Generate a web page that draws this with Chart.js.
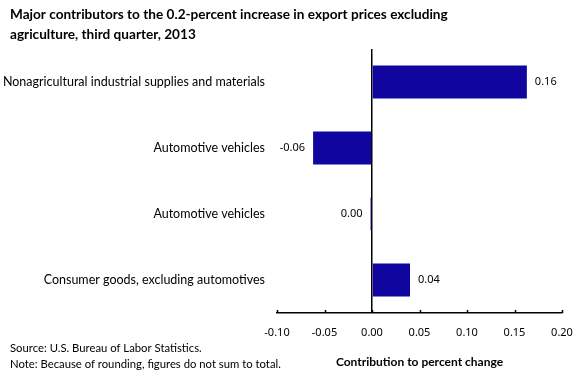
<!DOCTYPE html>
<html>
<head>
<meta charset="utf-8">
<script src="https://cdn.jsdelivr.net/npm/chart.js@4.4.1/dist/chart.umd.min.js"></script>
<style>
  html, body { margin: 0; padding: 0; background: #fff; }
  #wrap { width: 580px; height: 380px; position: relative; }
</style>
</head>
<body>
<div id="wrap"><canvas id="chart"></canvas></div>
<script>
const titleLines = [
  'Major contributors to the 0.2-percent increase in export prices excluding',
  'agriculture, third quarter, 2013'
];
const footLines = [
  'Source: U.S. Bureau of Labor Statistics.',
  'Note: Because of rounding, figures do not sum to total.'
];
const categories = [
  'Nonagricultural industrial supplies and materials',
  'Automotive vehicles',
  'Automotive vehicles',
  'Consumer goods, excluding automotives'
];
const contributions = [0.163, -0.062, -0.0015, 0.04];
const xTicks = [-0.10, -0.05, 0.00, 0.05, 0.10, 0.15, 0.20];

const BAR_COLOR = '#10069f';
const TEXT_FONT = 'Lato, "Open Sans", sans-serif';
const NUM_FONT = '"Noto Sans", "Liberation Sans", sans-serif';

function fmt(v) {
  const r = Math.round(v * 100) / 100;
  return (r === 0 ? 0 : r).toFixed(2);
}

// title, source notes, value labels and inward tick marks
const extras = {
  id: 'extras',
  afterDraw(chart) {
    const c = chart.ctx;
    c.save();
    c.fillStyle = '#000';
    c.textBaseline = 'alphabetic';
    c.textAlign = 'left';
    c.font = 'bold 13.6px ' + TEXT_FONT;
    c.fillText(titleLines[0], 10, 19);
    c.fillText(titleLines[1], 10, 39);

    c.font = '11.3px ' + TEXT_FONT;
    c.fillText(footLines[0], 10, 352);
    c.fillText(footLines[1], 10, 368);

    const xs = chart.scales.x;
    c.strokeStyle = '#000';
    c.lineWidth = 1.5;
    c.beginPath();
    xs.ticks.forEach(t => {
      const px = Math.round(xs.getPixelForValue(t.value)) + 0.5;
      c.moveTo(px, xs.top);
      c.lineTo(px, xs.top - 3);
    });
    c.stroke();

    const meta = chart.getDatasetMeta(0);
    c.font = '11px ' + NUM_FONT;
    c.textBaseline = 'middle';
    meta.data.forEach((bar, i) => {
      const v = contributions[i];
      if (v < 0) {
        c.textAlign = 'right';
        c.fillText(fmt(v), bar.x - 8, bar.y);
      } else {
        c.textAlign = 'left';
        c.fillText(fmt(v), bar.x + 8, bar.y);
      }
    });
    c.restore();
  }
};

new Chart(document.getElementById('chart'), {
  type: 'bar',
  data: {
    labels: categories,
    datasets: [{
      data: contributions,
      backgroundColor: BAR_COLOR,
      borderWidth: 0,
      categoryPercentage: 1,
      barPercentage: 0.5
    }]
  },
  options: {
    indexAxis: 'y',
    responsive: true,
    maintainAspectRatio: false,
    animation: false,
    layout: { padding: { top: 49, right: 18, bottom: 0, left: 0 } },
    plugins: {
      legend: { display: false },
      tooltip: { enabled: false },
      title: { display: false }
    },
    scales: {
      x: {
        min: -0.10,
        max: 0.20,
        afterBuildTicks(scale) {
          scale.ticks = xTicks.map(v => ({ value: v }));
        },
        afterFit(scale) {
          scale.height = 67;
          scale.paddingLeft = 0;
          scale.paddingRight = 0;
        },
        border: { display: true, color: '#000', width: 1.5 },
        grid: {
          drawTicks: false,
          lineWidth: 1.5,
          color: ctx => (ctx.tick && Math.abs(ctx.tick.value) < 1e-9) ? '#000' : 'rgba(0,0,0,0)'
        },
        ticks: {
          padding: 13,
          color: '#000',
          font: { family: NUM_FONT, size: 11 },
          callback: v => Number(v).toFixed(2)
        },
        title: {
          display: true,
          text: 'Contribution to percent change',
          color: '#000',
          font: { family: TEXT_FONT, size: 12, weight: 'bold' },
          padding: { top: 12, bottom: 11 }
        }
      },
      y: {
        afterFit(scale) { scale.width = 277; },
        border: { display: false },
        grid: { display: false, drawTicks: false },
        ticks: {
          padding: 12,
          color: '#000',
          font: { family: TEXT_FONT, size: 12.5 }
        }
      }
    }
  },
  plugins: [extras]
});
</script>
</body>
</html>
